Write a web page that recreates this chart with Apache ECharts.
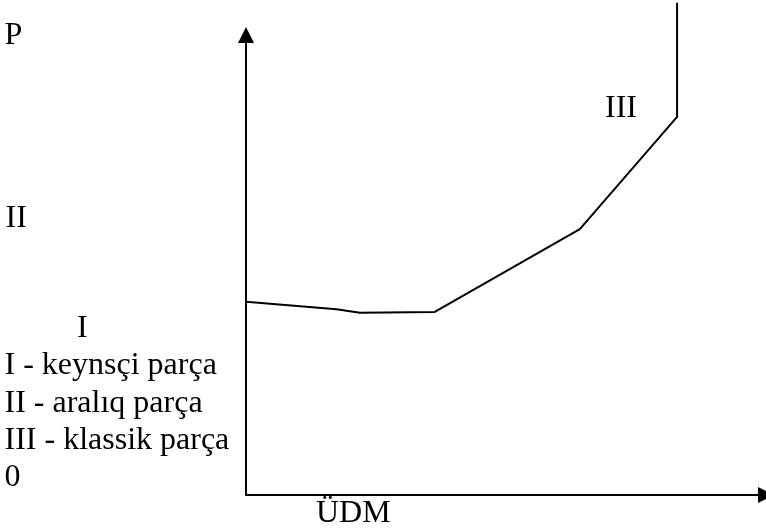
<!DOCTYPE html>
<html>
<head>
<meta charset="utf-8">
<script src="https://cdn.jsdelivr.net/npm/echarts@6/dist/echarts.min.js"></script>
<style>
  html, body { margin: 0; padding: 0; background: #fff; }
  #chart { width: 766px; height: 531px; }
</style>
</head>
<body>
<div id="chart"></div>
<script>
// Aggregate supply curve: output (ÜDM) against price level (P)
const outputVals = [0, 17.4, 21.9, 36.3, 64.2, 82.9, 82.9];
const priceVals  = [42.0, 40.4, 39.6, 39.8, 57.8, 82.2, 107.0];

const axisNames   = ['P', 'ÜDM', '0'];
const segmentTags = ['I', 'II', 'III'];
const legendLines = ['I - keynsçi parça', 'II - aralıq parça', 'III - klassik parça'];

const FONT = '"Liberation Serif", "Times New Roman", serif';

function label(text, x, y) {
  return {
    type: 'text',
    x: x, y: y,
    silent: true,
    style: {
      text: text,
      fontFamily: FONT,
      fontSize: 32,
      fill: '#000',
      textAlign: 'left', align: 'left',
      textVerticalAlign: 'middle', verticalAlign: 'middle'
    }
  };
}

const curve = outputVals.map((x, i) => [x, priceVals[i]]);

const chart = echarts.init(document.getElementById('chart'), null, { renderer: 'canvas' });
chart.setOption({
  backgroundColor: '#fff',
  animation: false,
  grid: { left: 246, right: 0, top: 35, bottom: 36, containLabel: false },
  xAxis: {
    type: 'value', min: 0, max: 100,
    axisLine: { show: true, lineStyle: { color: '#000', width: 2 },
                symbol: ['none', 'triangle'], symbolSize: [16, 16] },
    axisTick: { show: false }, axisLabel: { show: false }, splitLine: { show: false }
  },
  yAxis: {
    type: 'value', min: 0, max: 100,
    axisLine: { show: true, lineStyle: { color: '#000', width: 2 },
                symbol: ['none', 'triangle'], symbolSize: [16, 16] },
    axisTick: { show: false }, axisLabel: { show: false }, splitLine: { show: false }
  },
  series: [{
    type: 'line',
    data: curve,
    clip: false,
    symbol: 'none',
    lineStyle: { color: '#000', width: 2 }
  }],
  graphic: [
    label(axisNames[0], 4.5, 36),
    label(segmentTags[1], 5.5, 218.8),
    label(segmentTags[0], 77, 329),
    label(segmentTags[2], 605, 108.6),
    label(legendLines[0], 4.5, 365.7),
    label(legendLines[1], 4.5, 403.7),
    label(legendLines[2], 4.5, 440.7),
    label(axisNames[2], 4.5, 477.2),
    label(axisNames[1], 316, 513.7)
  ]
});
</script>
</body>
</html>
